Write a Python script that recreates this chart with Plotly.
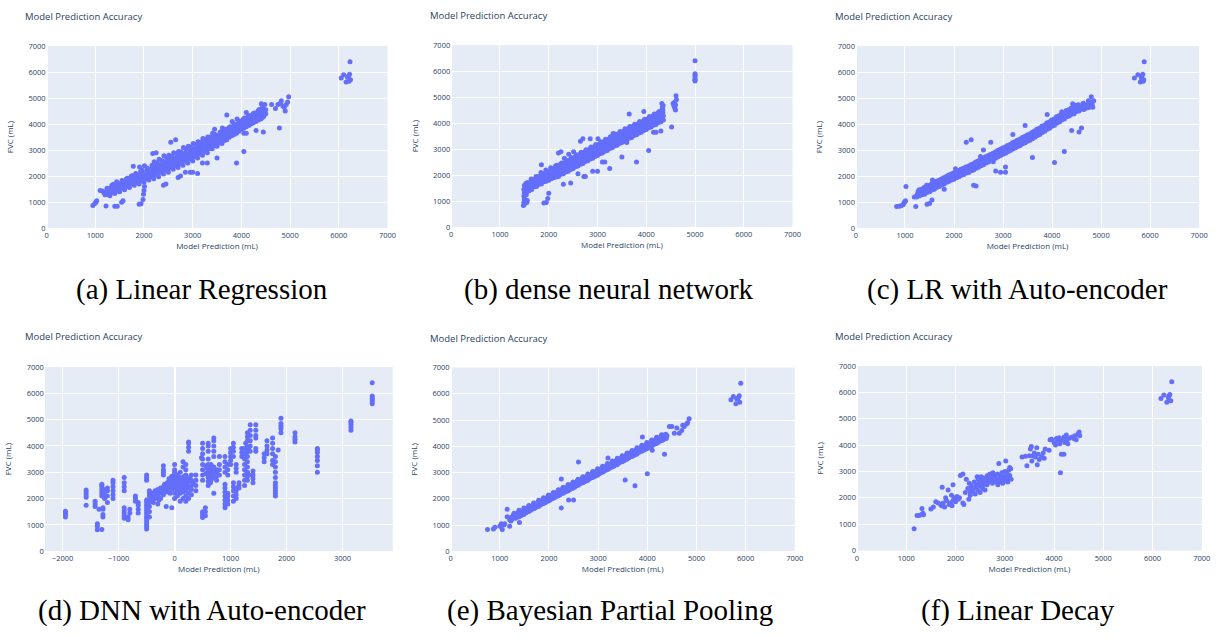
import plotly.graph_objects as go

# ---------------- data (prediction, FVC) ----------------
pts_a = [
    (950,870),(990,950),(1010,1000),(1030,1050),(1100,1450),(1150,1430),(1220,850),(1400,840),(1450,840),
    (1540,1000),(1570,1050),(1900,920),(1940,940),(1980,1100),(1990,1300),(2000,1450),(2010,1600),
    (1200,1280),(1230,1380),(1260,1500),(1180,1350),
    (1300,1250),(1320,1380),(1290,1520),(1340,1650),(1350,1450),
    (1400,1330),(1420,1450),(1380,1600),(1440,1780),(1450,1520),
    (1500,1400),(1530,1560),(1490,1700),(1550,1830),(1560,1620),
    (1600,1480),(1620,1620),(1590,1760),(1640,1900),(1650,1700),
    (1700,1560),(1720,1710),(1690,1850),(1740,2000),(1750,1780),
    (1800,1650),(1810,1790),(1790,1930),(1830,2100),(1780,2380),(1850,1870),
    (1900,1700),(1920,1860),(1880,2020),(1930,2180),(1910,2350),(1950,1950),
    (2000,1760),(2030,1900),(1980,2050),(2060,2200),(2010,2400),(2050,2020),
    (2100,1850),(2120,1990),(2090,2130),(2140,2270),(2150,2080),
    (2200,1900),(2220,2060),(2190,2210),(2240,2370),(2210,2550),(2180,2870),(2250,2900),(2250,2150),
    (2300,1980),(2320,2150),(2290,2300),(2340,2450),(2310,2650),(2350,2230),
    (2400,2080),(2420,2230),(2390,2380),(2440,2540),(2410,2780),(2400,1650),(2450,1700),(2450,2320),
    (2500,2150),(2520,2300),(2490,2450),(2540,2620),(2510,2800),(2550,2400),
    (2600,2260),(2620,2420),(2590,2560),(2640,2700),(2610,2900),(2550,3300),(2650,3400),(2650,2500),
    (2700,2330),(2720,2480),(2690,2630),(2740,2780),(2710,2950),(2700,1950),(2750,2000),(2750,2580),
    (2800,2420),(2820,2570),(2790,2720),(2840,2880),(2810,3100),(2850,2150),(2850,2680),
    (2900,2500),(2920,2650),(2890,2800),(2940,2960),(2910,3150),(2950,2150),(2950,2750),
    (3000,2580),(3020,2740),(2990,2900),(3040,3060),(3010,3250),(3000,2150),(3050,2850),
    (3100,2700),(3120,2850),(3090,3000),(3140,3150),(3110,3320),(3100,2100),(3150,2950),
    (3200,2800),(3220,2950),(3190,3100),(3240,3250),(3210,3450),(3200,2500),(3250,3050),
    (3300,2900),(3320,3050),(3290,3200),(3340,3350),(3310,3500),(3300,2500),(3350,3150),
    (3400,3050),(3420,3200),(3390,3330),(3440,3480),(3410,3650),(3450,3800),(3450,3280),
    (3500,3150),(3520,3300),(3490,3420),(3540,3560),(3500,2700),(3550,3380),
    (3600,3250),(3620,3420),(3590,3560),(3640,3700),(3610,3850),(3600,3300),(3650,3500),
    (3700,3400),(3720,3560),(3690,3700),(3740,3850),(3700,4350),(3750,3620),
    (3800,3550),(3820,3700),(3790,3830),(3840,3950),(3810,4100),(3850,3760),
    (3900,3650),(3920,3800),(3890,3920),(3940,4050),(3910,4200),(3900,2500),(3950,3880),
    (4000,3800),(4020,3950),(3990,4080),(4040,4200),(4050,2950),(4050,3650),(4050,4020),
    (4100,3900),(4120,4050),(4090,4170),(4140,4300),(4100,3650),(4100,4450),(4150,4120),
    (4200,4000),(4220,4150),(4190,4280),(4240,4400),(4250,4220),
    (4300,4100),(4320,4250),(4290,4380),(4340,4500),(4300,3750),(4350,4320),
    (4400,4200),(4420,4350),(4390,4500),(4440,4650),(4410,4780),(4450,3700),
    (4460,4300),(4470,4450),(4450,4600),(4480,4750),(4500,4400),(4500,4550),
    (4620,4750),(4700,4600),(4750,4750),(4800,4800),(4820,4900),(4850,4700),(4900,4500),(4920,4750),
    (4950,4850),(4970,5050),(4880,4650),(4780,3850),
    (6050,5770),(6100,5900),(6150,5620),(6200,5850),(6220,5920),(6240,5700),(6180,5800),(6230,6400),(6210,5650),
    (1250,1290),(1265,1410),(1240,1530),(1275,1350),(1350,1380),(1365,1560),(1340,1470),(1370,1690),
    (1450,1440),(1470,1640),(1440,1560),(1465,1720),(1550,1540),(1570,1700),(1545,1620),(1560,1780),
    (1650,1610),(1670,1830),(1640,1740),(1665,1920),(1750,1700),(1770,1880),(1740,1800),(1765,2010),
    (1850,1760),(1870,1990),(1840,2080),(1865,1880),(1950,1830),(1970,2100),(1940,2000),(1965,2230),
    (2050,1930),(2070,2160),(2040,2080),(2065,2310),(2150,1990),(2170,2250),(2140,2160),(2165,2420),
    (2250,2070),(2270,2330),(2240,2250),(2265,2500),(2350,2150),(2370,2430),(2340,2330),(2365,2600),
    (2450,2240),(2470,2520),(2440,2410),(2465,2690),(2550,2330),(2570,2600),(2540,2500),(2565,2760),
    (2650,2410),(2670,2690),(2640,2590),(2665,2860),(2750,2490),(2770,2770),(2740,2680),(2765,2940),
    (2850,2580),(2870,2860),(2840,2760),(2865,3040),(2950,2680),(2970,2960),(2940,2850),(2965,3120),
    (3050,2770),(3070,3040),(3040,2950),(3065,3220),(3150,2860),(3170,3140),(3140,3050),(3165,3300),
    (3250,2960),(3270,3240),(3240,3150),(3265,3400),(3350,3060),(3370,3340),(3340,3250),(3365,3500),
    (3450,3180),(3470,3440),(3440,3350),(3465,3600),(3550,3270),(3570,3530),(3540,3450),(3565,3700),
    (3650,3370),(3670,3640),(3640,3540),(3665,3800),(3750,3490),(3770,3750),(3740,3650),(3765,3900),
    (3850,3600),(3870,3860),(3840,3760),(3865,4000),(3950,3720),(3970,3970),(3940,3880),(3965,4120),
    (4050,3840),(4070,4080),(4040,3990),(4065,4230),(4150,3950),(4170,4180),(4140,4090),(4165,4330),
    (4250,4050),(4270,4280),(4240,4190),(4265,4430),(4350,4160),(4370,4380),(4340,4290),(4365,4560),
    (4430,4250),(4440,4420),(4420,4560),(4435,4700),
]

pts_b = [
    (1480,830),(1500,880),(1490,960),(1510,1020),(1500,1100),(1490,1200),(1500,1300),(1510,1380),(1490,1450),
    (1520,1520),(1500,1600),(1530,1680),(1550,950),(1560,1020),(1540,1250),
    (1600,1400),(1620,1550),(1590,1700),(1640,1850),(1610,1620),
    (1700,1550),(1720,1680),(1690,1820),(1740,1950),(1670,1600),
    (1800,1650),(1820,1800),(1790,1950),(1840,2100),(1850,2400),(1830,1880),
    (1900,1750),(1920,1900),(1890,2050),(1940,2200),(1900,930),(1950,950),(1910,1980),
    (2000,1800),(2020,1960),(1990,2120),(2040,2280),(1980,1100),(2000,1300),(2030,2050),
    (2100,1900),(2120,2050),(2090,2200),(2140,2350),(2150,2100),
    (2200,1950),(2220,2100),(2190,2260),(2240,2420),(2200,2850),(2250,2900),(2230,2180),
    (2300,2050),(2320,2200),(2290,2350),(2340,2500),(2300,1650),(2320,2650),(2350,2280),
    (2400,2150),(2420,2300),(2390,2450),(2440,2600),(2450,1700),(2410,2800),(2450,2380),
    (2500,2250),(2520,2400),(2490,2550),(2540,2700),(2510,2900),(2550,2480),
    (2600,2350),(2620,2500),(2590,2650),(2640,2800),(2600,2050),(2650,3300),(2650,2580),
    (2700,2450),(2720,2600),(2690,2750),(2740,2900),(2700,3400),(2720,1950),(2750,1950),(2750,2680),
    (2800,2550),(2820,2700),(2790,2850),(2840,3000),(2850,3400),(2850,2780),
    (2900,2650),(2920,2800),(2890,2950),(2940,3100),(2900,2150),(2950,2880),
    (3000,2750),(3020,2900),(2990,3050),(3040,3200),(3000,2150),(3010,3400),(3050,2980),
    (3100,2850),(3120,3000),(3090,3150),(3140,3300),(3100,2500),(3150,2500),(3150,3080),
    (3200,2950),(3220,3100),(3190,3250),(3240,3400),(3250,2250),(3250,3180),
    (3300,3050),(3320,3200),(3290,3350),(3340,3500),(3320,3600),(3350,3280),
    (3400,3150),(3420,3300),(3390,3450),(3440,3600),(3450,3380),
    (3500,3250),(3520,3400),(3490,3550),(3540,3700),(3500,2700),(3550,3300),(3550,3480),
    (3600,3350),(3620,3500),(3590,3650),(3640,3800),(3600,3250),(3650,3580),
    (3700,3450),(3720,3600),(3690,3750),(3740,3900),(3650,4350),(3750,3680),
    (3800,3550),(3820,3700),(3790,3850),(3840,3980),(3800,2500),(3850,3780),
    (3900,3650),(3920,3800),(3890,3950),(3940,4080),(3950,4450),(3950,3880),
    (4000,3750),(4020,3900),(3990,4050),(4040,4180),(4050,2950),(4050,3980),
    (4100,3850),(4120,4000),(4090,4150),(4140,4280),(4150,3650),(4150,4080),
    (4200,3950),(4220,4100),(4190,4250),(4240,4400),(4200,3650),(4250,4180),
    (4300,4050),(4320,4200),(4290,4350),(4340,4500),(4300,3700),(4330,4600),(4350,4280),(4320,4750),
    (4520,3850),(4550,4750),(4560,4750),(4580,4800),(4600,4700),(4620,4900),(4610,5050),(4590,4550),
    (4600,4500),(4570,4650),
    (5000,5620),(5000,5660),(5000,5700),(5000,5780),(5000,5850),(5000,5900),(5000,6400),
    (1550,1350),(1570,1480),(1545,1600),(1565,1720),(1650,1450),(1670,1580),(1640,1720),(1665,1820),
    (1750,1560),(1770,1700),(1740,1850),(1765,1780),(1850,1660),(1870,1800),(1840,1950),(1865,2050),
    (1950,1760),(1970,1900),(1940,2050),(1965,2150),(2050,1860),(2070,2000),(2040,2150),(2065,2250),
    (2150,1930),(2170,2080),(2140,2230),(2165,2380),(2250,2030),(2270,2180),(2240,2320),(2265,2470),
    (2350,2120),(2370,2270),(2340,2420),(2365,2570),(2450,2220),(2470,2370),(2440,2520),(2465,2680),
    (2550,2320),(2570,2470),(2540,2620),(2565,2780),(2650,2420),(2670,2570),(2640,2720),(2665,2880),
    (2750,2520),(2770,2670),(2740,2820),(2765,2980),(2850,2620),(2870,2770),(2840,2920),(2865,3080),
    (2950,2720),(2970,2870),(2940,3020),(2965,3180),(3050,2820),(3070,2970),(3040,3120),(3065,3280),
    (3150,2920),(3170,3070),(3140,3220),(3165,3380),(3250,3020),(3270,3170),(3240,3320),(3265,3480),
    (3350,3120),(3370,3270),(3340,3420),(3365,3580),(3450,3220),(3470,3370),(3440,3520),(3465,3680),
    (3550,3320),(3570,3470),(3540,3620),(3565,3780),(3650,3420),(3670,3570),(3640,3720),(3665,3870),
    (3750,3520),(3770,3670),(3740,3820),(3765,3960),(3850,3620),(3870,3770),(3840,3920),(3865,4060),
    (3950,3720),(3970,3870),(3940,4020),(3965,4150),(4050,3820),(4070,3970),(4040,4120),(4065,4250),
    (4150,3920),(4170,4070),(4140,4220),(4165,4350),(4250,4020),(4270,4170),(4240,4320),(4265,4450),
    (4350,4120),(4340,4400),(4330,4550),(4345,4680),
]

pts_c = [
    (830,830),(880,840),(920,860),(960,900),(980,980),(1000,1020),(1010,1050),(1020,1600),(1220,830),
    (1190,1200),(1450,920),(1500,950),(1550,1080),(1800,1500),
    (1250,1300),(1270,1420),(1240,1200),
    (1300,1250),(1320,1380),(1290,1480),(1350,1350),
    (1400,1300),(1420,1430),(1390,1560),(1440,1650),(1450,1380),
    (1500,1400),(1520,1520),(1490,1640),(1550,1480),
    (1600,1500),(1620,1620),(1590,1740),(1560,1850),(1650,1580),
    (1700,1600),(1720,1720),(1690,1840),(1750,1680),
    (1800,1700),(1820,1820),(1790,1940),(1850,1780),
    (1900,1800),(1920,1920),(1890,2040),(1950,1880),
    (2000,1880),(2020,2000),(1990,2120),(2050,1960),(2030,2280),
    (2100,1980),(2120,2100),(2090,2220),(2150,2060),
    (2200,2060),(2220,2180),(2190,2300),(2250,2140),(2250,3300),
    (2300,2140),(2320,2260),(2290,2380),(2350,2220),(2350,3400),
    (2400,2240),(2420,2360),(2390,2480),(2450,2320),(2400,1650),(2450,1620),
    (2500,2340),(2520,2460),(2490,2580),(2550,2420),(2540,2750),
    (2600,2440),(2620,2560),(2590,2680),(2650,2520),(2600,3000),
    (2700,2540),(2720,2660),(2690,2780),(2750,2620),(2750,3300),
    (2800,2640),(2820,2760),(2790,2880),(2850,2200),(2800,2550),(2850,2720),
    (2900,2740),(2920,2860),(2890,2980),(2950,2150),(2950,2820),
    (3000,2840),(3020,2960),(2990,3080),(3050,2150),(3050,2350),(3050,2920),
    (3100,2940),(3120,3060),(3090,3180),(3150,3020),
    (3200,3040),(3220,3160),(3190,3280),(3200,3600),(3250,3120),
    (3300,3140),(3320,3260),(3290,3380),(3350,3220),
    (3400,3240),(3420,3360),(3390,3480),(3450,3950),(3450,3320),
    (3500,3340),(3520,3460),(3490,3580),(3550,3420),
    (3600,3440),(3620,3560),(3590,3680),(3600,2720),(3650,3520),
    (3700,3560),(3720,3680),(3690,3800),(3750,3640),
    (3800,3680),(3820,3800),(3790,3920),(3850,3760),
    (3900,3800),(3920,3920),(3890,4040),(3900,4370),(3950,3880),
    (4000,3920),(4020,4040),(3990,4160),(4050,2520),(4050,4000),
    (4100,4040),(4120,4160),(4090,4280),(4150,4120),
    (4200,4160),(4220,4280),(4190,4400),(4200,4470),(4250,2950),(4250,4240),
    (4300,4280),(4320,4400),(4290,4520),(4350,4360),
    (4400,4380),(4420,4500),(4390,4620),(4400,3750),(4450,4460),(4420,4780),
    (4500,4480),(4520,4600),(4490,4720),(4550,3700),(4550,4560),
    (4600,4580),(4620,4700),(4600,3850),(4650,4650),(4630,4780),
    (4700,4620),(4720,4740),(4750,4700),(4780,4850),(4800,5050),(4820,4750),(4850,4900),(4830,4650),
    (5680,5770),(5750,5900),(5800,5620),(5830,5850),(5850,5920),(5870,5700),(5820,5780),(5880,6400),(5860,5650),
    (1350,1280),(1370,1410),(1340,1500),(1450,1380),(1470,1510),(1440,1600),(1550,1470),(1570,1600),
    (1540,1700),(1650,1570),(1670,1700),(1640,1800),(1750,1660),(1770,1790),(1740,1890),(1850,1760),
    (1870,1880),(1840,1990),(1950,1850),(1970,1980),(1940,2080),(2050,1940),(2070,2070),(2040,2170),
    (2150,2030),(2170,2160),(2140,2260),(2250,2120),(2270,2250),(2240,2350),(2350,2210),(2370,2340),
    (2340,2440),(2450,2300),(2470,2430),(2440,2540),(2550,2400),(2570,2530),(2540,2640),(2650,2500),
    (2670,2630),(2640,2740),(2750,2590),(2770,2720),(2740,2830),(2850,2690),(2870,2820),(2840,2930),
    (2950,2790),(2970,2920),(2940,3030),(3050,2880),(3070,3010),(3040,3120),(3150,2980),(3170,3110),
    (3140,3220),(3250,3080),(3270,3210),(3240,3320),(3350,3180),(3370,3310),(3340,3420),(3450,3280),
    (3470,3410),(3440,3520),(3550,3380),(3570,3510),(3540,3620),(3650,3490),(3670,3620),(3640,3730),
    (3750,3600),(3770,3730),(3740,3840),(3850,3720),(3870,3850),(3840,3960),(3950,3840),(3970,3970),
    (3940,4080),(4050,3960),(4070,4090),(4040,4200),(4150,4080),(4170,4210),(4140,4320),(4250,4200),
    (4270,4330),(4240,4440),(4350,4310),(4370,4440),(4340,4550),(4450,4400),(4470,4530),(4440,4640),
    (4550,4500),(4570,4630),(4540,4740),(4650,4560),(4670,4700),(4640,4800),(4750,4640),(4770,4780),
    (4740,4900),
]

pts_d = [
    (-1950,1300),(-1950,1380),(-1950,1450),(-1950,1520),
    (-1580,1750),(-1580,2050),(-1580,2150),(-1580,2250),(-1580,2330),
    (-1420,1700),(-1420,1800),(-1420,1900),(-1380,820),(-1380,950),(-1380,1050),(-1300,830),(-1350,1600),
    (-1300,2100),(-1300,2200),(-1300,2300),(-1300,2400),(-1300,2500),(-1300,2550),
    (-1280,1300),(-1280,1400),(-1280,1600),(-1280,1650),
    (-1250,2000),(-1250,2150),(-1250,2250),(-1250,2350),
    (-1200,1850),(-1200,2100),(-1200,2300),(-1200,2400),
    (-1100,2000),(-1100,2150),(-1100,2300),(-1100,2450),(-1100,2600),(-1100,2700),
    (-900,1250),(-900,1350),(-900,1450),(-900,1550),(-900,1650),(-900,2300),(-900,2450),(-900,2600),(-900,2800),
    (-830,1200),(-830,1300),(-800,1450),(-800,1600),
    (-700,1900),(-700,2000),(-700,2100),
    (-650,1450),(-650,1600),(-650,1750),(-650,1850),
    (-500,850),(-500,950),(-500,1050),(-500,1150),(-500,1250),(-500,1350),(-500,1450),(-500,1550),
    (-500,1650),(-500,1750),(-500,1850),(-500,1950),(-500,2700),(-500,2800),(-500,2900),
    (-450,1300),(-450,1500),(-450,1700),(-450,1900),(-450,2100),(-450,2200),(-450,2300),
    (-400,1900),(-400,2050),(-400,2200),(-350,2000),(-350,2150),(-350,2300),
    (-300,1800),(-300,2100),(-300,2250),(-300,2350),(-250,2000),(-250,2200),(-250,2400),
    (-200,2150),(-200,2300),(-200,2450),(-200,2900),(-200,3000),(-200,3100),(-200,3250),
    (-150,2250),(-150,2400),(-150,1700),
    (-100,2300),(-100,2450),(-100,2550),(-100,2650),(-100,2750),
    (-50,1650),(-50,2350),(-50,2550),(-50,2700),(-50,2850),
    (0,2000),(0,2200),(0,2400),(0,2500),(0,2600),(0,2700),(0,2800),(0,2900),(0,3000),(0,3100),(0,3300),
    (50,2100),(50,2300),(50,2450),(50,2600),(50,2750),(50,2900),
    (100,1900),(100,2200),(100,2350),(100,2500),(100,2650),(100,2800),(100,3000),
    (150,2000),(150,2250),(150,2400),(150,2550),(150,2700),(150,3200),(150,3400),
    (200,1900),(200,2100),(200,2300),(200,2450),(200,2600),(200,2750),(200,2900),(200,3100),(200,3300),
    (250,2000),(250,2200),(250,2400),(250,2650),(250,3800),(250,3950),(250,4100),(250,4150),
    (300,2150),(300,2350),(300,2500),(300,2700),(300,2900),
    (380,2300),(380,2500),(380,2700),(380,2900),
    (480,3550),
    (500,1280),(500,1350),(500,1450),(500,1500),(500,2700),(500,2900),(500,3100),(500,3300),(500,3500),
    (500,3700),(500,3900),(500,4100),
    (550,1350),(550,1500),(550,1650),
    (600,2500),(600,2650),(600,2800),(600,2900),(600,3000),(600,3100),(600,3200),(600,3300),(600,3500),
    (600,3800),(600,4000),(600,4100),
    (650,2700),(650,2850),(650,3000),(650,3150),(650,3300),
    (700,2200),(700,2800),(700,3000),(700,3200),(700,3600),(700,3800),(700,4000),(700,4200),(700,4300),
    (750,2700),(750,2850),(750,3000),(750,3100),
    (800,2900),(800,3100),(800,3300),(800,3600),
    (900,1650),(900,1800),(900,1950),(900,2100),(900,2250),(900,2400),(900,2550),
    (900,3000),(900,3200),(900,3400),(900,3600),
    (950,1800),(950,1950),(950,2100),(950,2200),(950,2900),(950,3100),(950,3300),
    (1000,3300),(1000,3450),(1000,3600),(1000,3750),(1000,3900),
    (1050,1900),(1050,2100),(1050,2300),(1050,2450),(1050,2600),(1050,3600),(1050,3800),(1050,3950),(1050,4100),
    (1100,2000),(1100,2150),(1100,2300),(1100,2400),(1100,3000),(1100,3150),(1100,3300),
    (1150,2400),(1150,2500),(1150,2600),
    (1200,3600),(1200,3750),(1200,3900),
    (1250,2500),(1250,2700),(1250,2900),(1250,3100),(1250,3300),(1250,3500),(1250,3700),(1250,3900),
    (1300,2700),(1300,2850),(1300,3000),(1300,3200),(1300,3400),(1300,3600),(1300,3800),(1300,4000),
    (1300,4200),(1300,4350),(1300,4500),
    (1350,3800),(1350,4000),(1350,4200),(1350,4400),(1350,4600),(1350,4800),
    (1400,2600),(1400,2750),(1400,2900),(1400,3050),
    (1450,3800),(1450,3900),(1450,4300),(1450,4400),(1450,4600),(1450,4800),
    (1600,3400),(1600,3550),(1600,3700),
    (1650,3700),(1650,3850),(1650,4000),(1650,4200),
    (1750,3300),(1750,3450),(1750,3700),(1750,3900),(1750,4100),(1750,4300),
    (1800,2100),(1800,2200),(1800,2300),(1800,2400),(1800,2500),(1800,2600),(1800,2800),(1800,3000),
    (1800,3200),(1800,3400),(1800,3600),
    (1850,3850),
    (1900,4500),(1900,4650),(1900,4750),(1900,4850),(1900,5050),
    (2150,4150),(2150,4250),(2150,4350),(2150,4500),
    (2550,3000),(2550,3250),(2550,3450),(2550,3600),(2550,3750),(2550,3850),(2550,3900),
    (3150,4600),(3150,4700),(3150,4800),(3150,4900),(3150,4950),
    (3530,5600),(3530,5680),(3530,5750),(3530,5820),(3530,5900),(3530,6400),
    (-480,1600),(-470,1800),(-420,2000),(-380,1850),(-330,2250),(-280,1950),(-230,2300),(-180,2550),
    (-130,2600),(-80,2200),(-30,2450),(20,2550),(70,2350),(120,2700),(170,2850),(220,2500),(270,2800),
    (330,2600),(560,2950),(580,3150),(620,2750),(630,3050),(670,2900),(680,3200),(720,3050),(560,3250),
    (640,2600),(700,2900),(1280,3700),(1320,3900),(1330,2900),(1270,4100),
]

pts_e = [
    (750,830),(870,850),(900,920),(1000,950),(1030,1050),(1050,830),(1080,1000),(1100,1050),(1150,1600),
    (1150,1320),(1200,950),(1400,1100),
    (1200,1200),(1230,1300),(1250,1220),
    (1300,1280),(1320,1380),(1290,1450),(1350,1330),
    (1400,1360),(1420,1460),(1390,1560),(1450,1420),
    (1500,1450),(1520,1550),(1490,1650),(1550,1500),
    (1600,1540),(1620,1640),(1590,1740),(1650,1600),
    (1700,1640),(1720,1740),(1690,1840),(1750,1700),
    (1800,1740),(1820,1840),(1790,1940),(1850,1800),
    (1900,1840),(1920,1940),(1890,2040),(1950,1900),
    (2000,1940),(2020,2040),(1990,2140),(2050,2000),
    (2100,2040),(2120,2140),(2090,2240),(2150,2100),
    (2200,2140),(2220,2240),(2190,2340),(2250,2200),(2250,2750),(2250,1650),
    (2300,2240),(2320,2340),(2290,2440),(2350,2300),
    (2400,2340),(2420,2440),(2390,2540),(2450,2400),(2400,1950),
    (2500,2440),(2520,2540),(2490,2640),(2550,2500),(2500,1950),
    (2600,2540),(2620,2640),(2590,2740),(2650,2600),(2600,3400),
    (2700,2640),(2720,2740),(2690,2840),(2750,2700),
    (2800,2740),(2820,2840),(2790,2940),(2850,2800),
    (2900,2840),(2920,2940),(2890,3040),(2950,2900),
    (3000,2940),(3020,3040),(2990,3140),(3050,3000),
    (3100,3040),(3120,3140),(3090,3240),(3150,3100),
    (3200,3140),(3220,3240),(3190,3340),(3200,3550),(3250,3200),
    (3300,3240),(3320,3340),(3290,3440),(3350,3300),
    (3400,3340),(3420,3440),(3390,3540),(3450,3400),
    (3500,3440),(3520,3540),(3490,3640),(3550,2720),(3550,3500),
    (3600,3540),(3620,3640),(3590,3740),(3650,3600),
    (3700,3640),(3720,3740),(3690,3840),(3750,2500),(3750,3700),
    (3800,3740),(3820,3840),(3790,3940),(3850,3800),
    (3900,3840),(3920,3940),(3890,4040),(3900,4350),(3950,3900),
    (4000,3940),(4020,4040),(3990,4140),(4000,2950),(4050,4000),
    (4100,4040),(4120,4140),(4090,4240),(4100,3850),(4150,4100),
    (4200,4140),(4220,4240),(4190,4340),(4250,4200),
    (4300,4240),(4320,4340),(4290,4440),(4350,3700),(4350,4300),
    (4400,4400),(4450,4750),(4500,4750),(4550,4500),(4600,4700),(4650,4500),(4700,4600),(4720,4800),
    (4750,4750),(4800,4850),(4820,4900),(4850,5050),
    (5700,5770),(5750,5900),(5800,5620),(5850,5850),(5870,5920),(5880,5680),(5820,5800),(5900,6400),
    (1225,1150),(1275,1380),(1235,1250),(1325,1260),(1335,1420),(1375,1480),(1385,1310),(1425,1350),
    (1475,1560),(1485,1400),(1525,1460),(1535,1610),(1575,1680),(1585,1520),(1625,1560),(1635,1700),
    (1675,1770),(1685,1620),(1725,1660),(1735,1800),(1775,1870),(1785,1710),(1825,1760),(1835,1910),
    (1875,1980),(1885,1820),(1925,1860),(1935,2010),(1975,2080),(1985,1920),(2025,1950),(2035,2120),
    (2075,2170),(2085,2020),(2125,2060),(2135,2210),(2175,2280),(2185,2110),(2225,2150),(2235,2330),
    (2275,2380),(2285,2210),(2325,2260),(2335,2400),(2375,2470),(2385,2300),(2425,2350),(2435,2520),
    (2475,2570),(2485,2400),(2525,2450),(2535,2610),(2575,2680),(2585,2510),(2625,2560),(2635,2700),
    (2675,2770),(2685,2610),(2725,2650),(2735,2820),(2775,2870),(2785,2700),(2825,2760),(2835,2900),
    (2875,2970),(2885,2810),(2925,2850),(2935,3020),(2975,3060),(2985,2900),(3025,2950),(3035,3120),
    (3075,3170),(3085,3010),(3125,3060),(3135,3200),(3175,3280),(3185,3110),(3225,3150),(3235,3320),
    (3275,3370),(3285,3210),(3325,3250),(3335,3420),(3375,3460),(3385,3300),(3425,3360),(3435,3510),
    (3475,3570),(3485,3410),(3525,3450),(3535,3610),(3575,3680),(3585,3510),(3625,3560),(3635,3700),
    (3675,3770),(3685,3610),(3725,3650),(3735,3820),(3775,3870),(3785,3700),(3825,3760),(3835,3900),
    (3875,3970),(3885,3810),(3925,3850),(3935,4020),(3975,4060),(3985,3900),(4025,3950),(4035,4120),
    (4075,4170),(4085,4010),(4125,4060),(4135,4200),(4175,4280),(4185,4110),(4225,4150),(4235,4320),
    (4275,4370),(4285,4210),(4325,4250),(4335,4420),(4375,4460),(4385,4300),
]

pts_f = [
    (1160,830),(1220,1330),(1260,1330),(1300,1360),(1320,1600),(1340,1420),(1350,1360),(1500,1580),(1550,1650),
    (1600,1850),(1650,1800),(1700,1750),(1720,1700),(1730,2400),(1750,1800),(1780,1650),(1800,2000),
    (1820,1900),(1850,2300),(1870,1750),(1900,1800),(1920,2100),(1930,1700),(1950,2500),(1950,1900),
    (1980,2000),(2000,1850),(2030,2050),(2060,1950),(2080,2000),(2100,2850),(2150,2900),(2150,1800),
    (2170,1750),(2200,2200),(2220,2700),(2250,2350),(2270,1950),(2280,2550),(2300,2200),(2300,2100),
    (2320,2450),(2340,2300),(2350,2250),(2380,2600),(2400,2400),(2400,2150),(2420,2500),(2440,2800),
    (2450,2300),(2460,2700),(2480,2550),(2500,2450),(2500,2200),(2520,2800),(2540,2650),(2550,2350),
    (2560,2500),(2580,2750),(2600,2600),(2600,2300),(2620,2700),(2640,2500),(2650,2850),(2660,2650),
    (2680,2750),(2700,2600),(2700,2900),(2720,2700),(2740,2800),(2750,2550),(2760,2950),(2780,2650),
    (2800,2750),(2800,2850),(2820,2600),(2840,2700),(2850,2900),(2860,2500),(2880,3300),(2900,2750),
    (2900,2600),(2920,2850),(2940,2950),(2950,2700),(2960,2550),(2980,2800),(3000,3000),(3000,2650),
    (3020,3400),(3040,2900),(3050,2750),(3060,2600),(3080,3050),(3100,2850),(3100,3150),(3120,3100),
    (3130,2700),
    (3350,3550),(3420,3580),(3450,3220),(3500,3600),(3520,3850),(3540,3950),(3550,3400),(3570,3600),
    (3600,3700),(3620,3550),(3650,3900),(3660,3250),(3680,3650),(3700,3450),(3750,3550),(3780,3700),
    (3800,3500),(3820,3850),(3900,3800),
    (3920,4200),(3950,4220),(4000,4100),(4030,4000),(4050,4250),(4080,4150),(4100,4280),(4120,4050),
    (4130,2950),(4150,4200),(4150,3650),(4200,3650),(4200,4300),(4220,4100),(4250,4380),(4260,4200),
    (4280,4050),(4300,4250),(4350,4300),(4400,4250),(4420,4350),(4450,4200),(4480,4400),(4500,4450),
    (4510,4500),(4520,4350),
    (6170,5770),(6230,5900),(6290,5620),(6330,5850),(6350,5920),(6370,5680),(6320,5790),(6390,6400),
]

panel_points = [pts_a, pts_b, pts_c, pts_d, pts_e, pts_f]
captions = ["(a) Linear Regression", "(b) dense neural network", "(c) LR with Auto-encoder",
            "(d) DNN with Auto-encoder", "(e) Bayesian Partial Pooling", "(f) Linear Decay"]
chart_title = "Model Prediction Accuracy"
x_label = "Model Prediction (mL)"
y_label = "FVC (mL)"

# ---------------- layout geometry (pixels) ----------------
W, H = 1225, 637
plot_boxes = [  # left, right, top, bottom in px
    (45, 389, 41.7, 226.7),
    (453.3, 797.7, 40.7, 225.7),
    (861.7, 1208, 41.7, 226.7),
    (43.3, 394.3, 367.7, 555),
    (452.7, 800, 368.3, 555),
    (862.7, 1210.7, 366.7, 554.3),
]
title_pos = [(21, 12), (430, 11), (839, 12), (21, 337), (430, 339), (839, 337)]
caption_pos = [(202, 289), (612, 289), (1025, 289), (202, 615), (614, 615), (1025, 615)]

TXT = "#2a3f5f"
fig = go.Figure()
layout = dict(width=W, height=H, autosize=False, margin=dict(l=0, r=0, t=0, b=0),
              paper_bgcolor="white", plot_bgcolor="#e5ecf6", showlegend=False,
              font=dict(family="Open Sans", color=TXT, size=8))
annotations = []
for i, pts in enumerate(panel_points):
    n = "" if i == 0 else str(i + 1)
    xs = [p[0] for p in pts]
    ys = [p[1] for p in pts]
    fig.add_trace(go.Scatter(x=xs, y=ys, mode="markers",
                             marker=dict(color="#636efa", size=5),
                             xaxis="x" + n, yaxis="y" + n))
    l, r, t, b = plot_boxes[i]
    xa = dict(domain=[l / W, r / W], anchor="y" + n, showgrid=True, gridcolor="white", gridwidth=1,
              zeroline=True, zerolinecolor="white", zerolinewidth=2, linecolor="white",
              tickfont=dict(size=7.5, color=TXT), dtick=1000, tick0=0, ticks="",
              title=dict(text=x_label, font=dict(size=8, color=TXT), standoff=3))
    if i != 3:
        xa["range"] = [0, 7000]
    ya = dict(domain=[1 - b / H, 1 - t / H], anchor="x" + n, range=[0, 7000], dtick=1000,
              showgrid=True, gridcolor="white", gridwidth=1, zeroline=True, zerolinecolor="white",
              zerolinewidth=2, tickfont=dict(size=7.5, color=TXT), ticks="",
              title=dict(text=y_label, font=dict(size=8, color=TXT), standoff=13))
    layout["xaxis" + n] = xa
    layout["yaxis" + n] = ya
    tx, ty = title_pos[i]
    annotations.append(dict(text=chart_title, x=tx / W, y=1 - ty / H, xref="paper", yref="paper",
                            xanchor="left", yanchor="middle", showarrow=False,
                            font=dict(size=9.5, color=TXT, family="Open Sans")))
    cx, cy = caption_pos[i]
    annotations.append(dict(text=captions[i], x=cx / W, y=1 - cy / H, xref="paper", yref="paper",
                            xanchor="center", yanchor="middle", showarrow=False,
                            font=dict(size=29, color="black", family="Liberation Serif")))
layout["annotations"] = annotations
fig.update_layout(**layout)
fig.write_html("out.html", config={"displayModeBar": False},
               post_script="document.body.style.margin='0';document.body.style.overflow='hidden';")
